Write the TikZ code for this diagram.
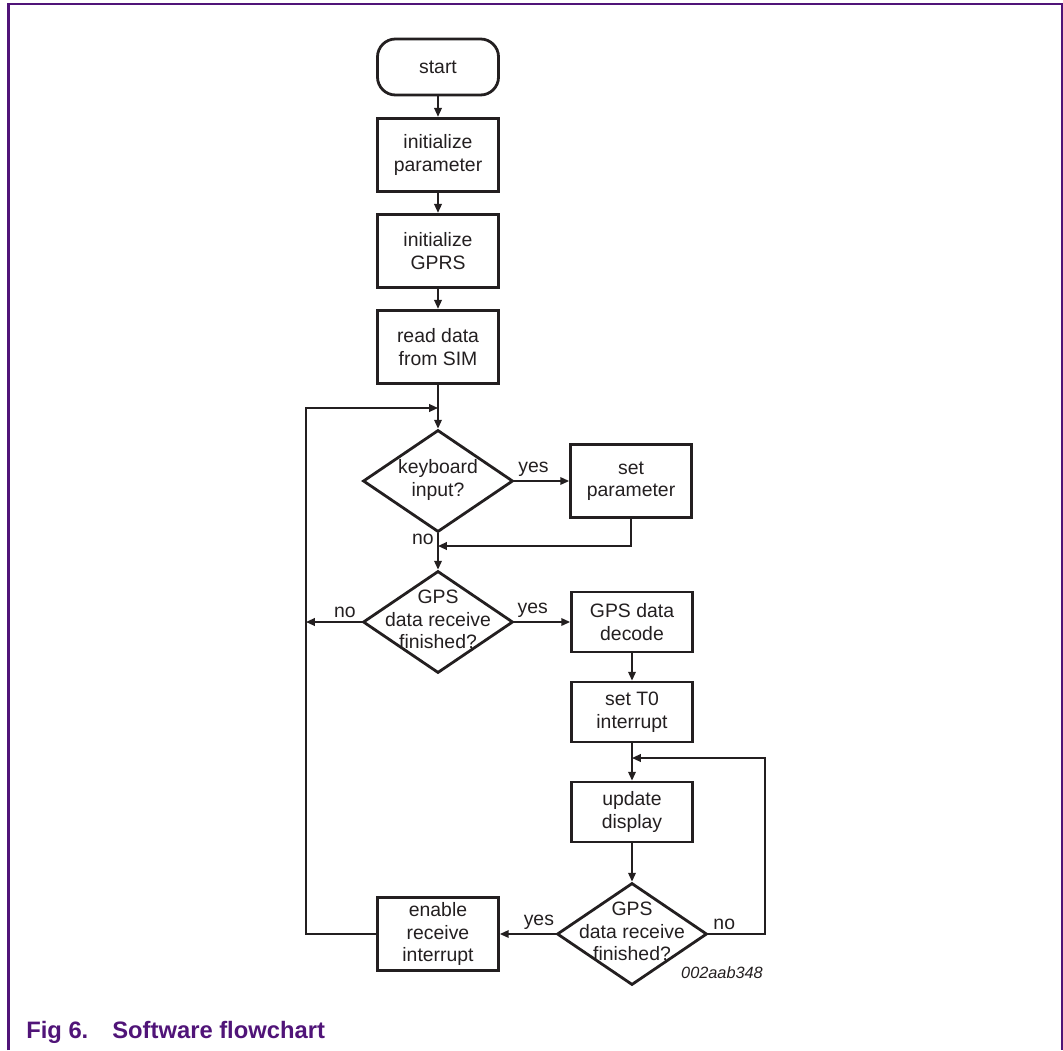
\documentclass[tikz,border=0pt]{standalone}
\usepackage{fontspec}
\setmainfont{Liberation Sans}
\definecolor{nxpurple}{RGB}{80,20,120}
\definecolor{ink}{RGB}{35,31,32}
\usetikzlibrary{arrows.meta,positioning,shapes.geometric,calc}

\newcommand{\dlabel}[1]{\raisebox{-3.4pt}[0pt][0pt]{\makebox[0pt]{\begin{tabular}{@{}c@{}}#1\end{tabular}}}}

\begin{document}
\begin{tikzpicture}[
    x=0.025cm, y=-0.025cm,
    every node/.style={font=\fontsize{13.8}{16}\selectfont, text=ink},
    startbox/.style={rectangle, draw=ink, line width=0.07cm, rounded corners=0.45cm,
                     minimum width=3.025cm, minimum height=1.4cm},
    stepbox/.style={rectangle, draw=ink, line width=0.07cm, align=center,
                    minimum width=3.025cm, minimum height=1.84cm},
    shortbox/.style={stepbox, minimum height=1.5cm},
    decision/.style={diamond, draw=ink, line width=0.07cm, inner sep=0pt,
                     minimum width=3.75cm, minimum height=2.55cm},
    flow/.style={draw=ink, line width=0.04cm, -{Triangle[length=0.22cm,width=0.19cm]}},
    lbl/.style={inner sep=2.5pt}
  ]
    \useasboundingbox (0,0) rectangle (1063,1050);

    % Frame
    \draw[nxpurple, line width=0.05cm] (8.5,1050) -- (8.5,4.5) -- (1061.5,4.5) -- (1061.5,1050);

    % Main column
    \node[startbox] (start) at (438,67) {start};
    \node[stepbox] (initpar) at (438,155) {initialize\\parameter};
    \node[stepbox] (initgprs) at (438,251) {initialize\\GPRS};
    \node[stepbox] (readsim) at (438,347) {read data\\from SIM};
    \node[decision] (keyin) at (438,481) {\dlabel{keyboard\\input?}};
    \node[decision] (gps1) at (438,622) {\dlabel{GPS\\data receive\\finished?}};
    \node[stepbox] (enable) at (438,934) {enable\\receive\\interrupt};

    % Right column
    \node[stepbox] (setpar) at (631,481) {set\\parameter};
    \node[shortbox] (decode) at (632,622) {GPS data\\decode};
    \node[shortbox] (sett0) at (632,712) {set T0\\interrupt};
    \node[shortbox] (update) at (632,812) {update\\display};
    \node[decision] (gps2) at (632,934) {\dlabel{GPS\\data receive\\finished?}};

    % Join points
    \coordinate (joinL) at (438,408);
    \coordinate (loopL) at (306,408);
    \coordinate (joinK) at (438,546);
    \coordinate (joinR) at (632,758);
    \coordinate (loopR) at (765,758);

    % Connectors
    \draw[flow] (start) -- (initpar);
    \draw[flow] (initpar) -- (initgprs);
    \draw[flow] (initgprs) -- (readsim);
    \draw[flow] (readsim) -- (keyin);
    \draw[flow] (keyin) -- node[lbl, above, pos=0.35] {yes} (setpar);
    \draw[flow] (keyin.south) -- node[lbl, left, pos=0.17] {no} (gps1.north);
    \draw[flow] (setpar.south) |- (joinK);
    \draw[flow] (gps1) -- node[lbl, above, pos=0.33] {yes} (decode);
    \draw[flow] (gps1.west) -- node[lbl, above, pos=0.3] {no} (gps1.west -| loopL);
    \draw[flow] (decode) -- (sett0);
    \draw[flow] (sett0) -- (update);
    \draw[flow] (update) -- (gps2);
    \draw[flow] (gps2.west) -- node[lbl, above, pos=0.3] {yes} (enable.east);
    \draw[flow] (gps2.east) -| node[lbl, above, pos=0.14] {no} (loopR) -- (joinR);
    \draw[flow] (enable.west) -| (loopL) -- (joinL);

    % Figure id and caption
    \node[font=\fontsize{11.6}{14}\selectfont\itshape] (figid) at (722,973) {002aab348};
    \node[anchor=base west, inner sep=0pt, text=nxpurple,
          font=\fontsize{16.9}{20}\selectfont\bfseries] (caption) at (26,1038)
      {Fig 6.\hspace{0.6cm}Software flowchart};
  \end{tikzpicture}
\end{document}
